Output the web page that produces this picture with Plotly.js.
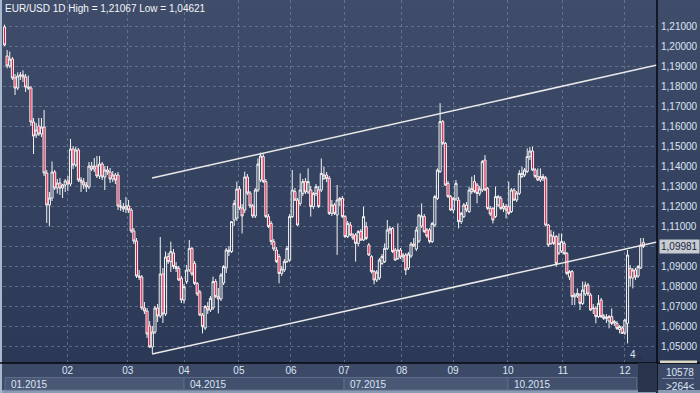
<!DOCTYPE html>
<html><head><meta charset="utf-8">
<script src="https://cdn.plot.ly/plotly-3.0.1.min.js"></script>
<style>
html,body{margin:0;padding:0;background:#34425f;}
#chart{width:700px;height:393px;
background:
 linear-gradient(to right,#a9b8cd 0px,#a9b8cd 2px,rgba(0,0,0,0) 2px),
 linear-gradient(to bottom,#404d6a 0px,#2c3956 363px,#3c4a67 363px,#3c4a67 390px,#8a99b2 390px,#8a99b2 393px);}
</style></head><body><div id="chart"></div>
<script>
// ---- data ----
const symbolText = "EUR/USD 1D";
const opens = [1.2095,1.1950,1.1900,1.1935,1.1840,1.1790,1.1850,1.1855,1.1845,1.1795,
1.1790,1.1620,1.1555,1.1600,1.1560,1.1595,1.1365,1.1205,1.1240,1.1370,
1.1290,1.1315,1.1290,1.1305,1.1325,1.1310,1.1485,1.1405,1.1480,1.1330,
1.1320,1.1305,1.1295,1.1400,1.1385,1.1400,1.1350,1.1410,1.1345,1.1380,
1.1370,1.1335,1.1355,1.1355,1.1200,1.1195,1.1185,1.1200,1.1180,1.1075,
1.1025,1.0850,1.0845,1.0690,1.0675,1.0600,1.0495,1.0570,1.0690,1.0650,
1.0860,1.0660,1.0947,1.0922,1.0965,1.0897,1.0888,1.0838,1.0730,1.0822,
1.0880,1.0988,1.0913,1.0813,1.0770,1.0655,1.0590,1.0697,1.0680,1.0690,
1.0822,1.0747,1.0735,1.0815,1.0890,1.0980,1.0972,1.1130,1.1140,1.1285,
1.1190,1.1180,1.1345,1.1265,1.1200,1.1150,1.1280,1.1330,1.1447,1.1322,
1.1147,1.1113,1.1022,1.0980,1.0947,1.0863,1.0880,1.0922,1.0930,1.1147,
1.1272,1.1230,1.1213,1.1263,1.1322,1.1270,1.1280,1.1197,1.1263,1.1280,
1.1280,1.1338,1.1355,1.1338,1.1163,1.1205,1.1155,1.1230,1.1238,1.1147,
1.1047,1.1105,1.1055,1.1055,1.1013,1.1072,1.1030,1.1097,1.1005,1.0947,
1.0872,1.0830,1.0840,1.0913,1.0922,1.0988,1.1080,1.1088,1.0980,1.0938,
1.0980,1.0945,1.0955,1.0890,1.0950,1.1010,1.0985,1.1025,1.1100,1.1147,
1.1080,1.1080,1.1022,1.1105,1.1238,1.1372,1.1622,1.1513,1.1313,1.1247,
1.1180,1.1235,1.1230,1.1122,1.1147,1.1205,1.1172,1.1272,1.1322,1.1305,
1.1263,1.1280,1.1430,1.1288,1.1188,1.1188,1.1147,1.1205,1.1238,1.1188,
1.1197,1.1197,1.1172,1.1280,1.1230,1.1263,1.1347,1.1355,1.1372,1.1447,
1.1475,1.1380,1.1347,1.1330,1.1347,1.1340,1.1105,1.1013,1.1047,1.1047,
1.0965,1.0975,1.1013,1.0963,1.0845,1.0872,1.0745,1.0750,1.0755,1.0713,
1.0760,1.0805,1.0755,1.0690,1.0688,1.0647,1.0730,1.0650,1.0638,1.0625,
1.0647,1.0615,1.0613,1.0582,1.0590,1.0565,1.0613,1.0888,1.0840,1.0880,
1.0850,1.0890,1.1017];
const highs = [1.21067,1.1980,1.1972,1.1945,1.1860,1.1868,1.1870,1.1878,1.1860,1.1852,
1.1800,1.1640,1.1615,1.1640,1.1640,1.1680,1.1380,1.1270,1.1423,1.1380,
1.1335,1.1340,1.1310,1.1335,1.1350,1.1535,1.1500,1.1495,1.1490,1.1345,
1.1340,1.1320,1.1420,1.1420,1.1440,1.1450,1.1450,1.1420,1.1400,1.1400,
1.1390,1.1375,1.1365,1.1370,1.1230,1.1215,1.1245,1.1230,1.1190,1.1090,
1.1040,1.0880,1.0855,1.0720,1.0690,1.0625,1.0600,1.0700,1.0710,1.1045,
1.0890,1.0972,1.0965,1.1022,1.0985,1.0920,1.0900,1.0850,1.0810,1.0905,
1.1030,1.0995,1.0925,1.0820,1.0780,1.0665,1.0705,1.0720,1.0750,1.0847,
1.0835,1.0790,1.0865,1.0905,1.0990,1.1000,1.1125,1.1230,1.1322,1.1300,
1.1210,1.1372,1.1360,1.1275,1.1210,1.1290,1.1438,1.1467,1.1460,1.1335,
1.1160,1.1125,1.1035,1.0995,1.0960,1.0900,1.0935,1.1000,1.1160,1.1380,
1.1290,1.1240,1.1363,1.1335,1.1340,1.1388,1.1300,1.1270,1.1310,1.1300,
1.1438,1.1397,1.1370,1.1350,1.1230,1.1215,1.1305,1.1245,1.1250,1.1155,
1.1125,1.1120,1.1065,1.1065,1.1080,1.1085,1.1197,1.1120,1.1015,1.0955,
1.0880,1.0880,1.0940,1.0960,1.1013,1.1130,1.1100,1.1095,1.0990,1.1113,
1.0990,1.0965,1.0965,1.0970,1.1020,1.1040,1.1097,1.1160,1.1213,1.1160,
1.1090,1.1090,1.1120,1.1255,1.1388,1.1714,1.1630,1.1520,1.1325,1.1255,
1.1245,1.1330,1.1245,1.1170,1.1215,1.1220,1.1297,1.1347,1.1355,1.1315,
1.1300,1.1430,1.1455,1.1295,1.1200,1.1195,1.1297,1.1255,1.1250,1.1215,
1.1210,1.1322,1.1290,1.1290,1.1275,1.1380,1.1397,1.1390,1.1488,1.1495,
1.1497,1.1390,1.1388,1.1388,1.1360,1.1350,1.1110,1.1080,1.1072,1.1055,
1.1063,1.1063,1.1025,1.0970,1.0880,1.0880,1.0765,1.0788,1.0765,1.0822,
1.0822,1.0815,1.0765,1.0710,1.0700,1.0755,1.0740,1.0660,1.0660,1.0655,
1.0688,1.0630,1.0625,1.0605,1.0600,1.0635,1.0980,1.0905,1.0890,1.0890,
1.0905,1.1040,1.1040];
const lows = [1.2000,1.1888,1.1890,1.1830,1.1755,1.1780,1.1830,1.1820,1.1770,1.1780,
1.1600,1.1460,1.1540,1.1550,1.1545,1.1350,1.1115,1.1098,1.1225,1.1280,
1.1262,1.1255,1.1240,1.1270,1.1275,1.1300,1.1385,1.1395,1.1320,1.1270,
1.1285,1.1270,1.1285,1.1375,1.1370,1.1340,1.1335,1.1330,1.1280,1.1355,
1.1315,1.1320,1.1310,1.1180,1.1175,1.1170,1.1165,1.1165,1.1065,1.1010,
1.0840,1.0830,1.0680,1.0660,1.0540,1.0490,1.04621,1.0560,1.0620,1.0640,
1.0615,1.0650,1.0910,1.0870,1.0885,1.0870,1.0825,1.0715,1.0712,1.0810,
1.0870,1.0850,1.0805,1.0750,1.0650,1.0563,1.0580,1.0660,1.0670,1.0680,
1.0740,1.0663,1.0725,1.0805,1.0865,1.0950,1.0965,1.1100,1.1125,1.1180,
1.1063,1.1165,1.1255,1.1190,1.1140,1.1140,1.1270,1.1320,1.1315,1.1140,
1.1090,1.1005,1.0975,1.0915,1.0813,1.0850,1.0870,1.0915,1.0920,1.1140,
1.1225,1.1100,1.1200,1.1250,1.1260,1.1260,1.1147,1.1185,1.1250,1.1190,
1.1270,1.1330,1.1320,1.1155,1.1150,1.1155,1.0955,1.1200,1.1140,1.1040,
1.1040,1.1050,1.1030,1.0922,1.1000,1.1025,1.1025,1.1030,1.0950,1.0863,
1.0808,1.0820,1.0830,1.0905,1.0915,1.0980,1.1060,1.0965,1.0925,1.0930,
1.0935,1.0920,1.0855,1.0880,1.0940,1.0995,1.0975,1.1015,1.1090,1.1065,
1.1040,1.1013,1.1015,1.1095,1.1230,1.1365,1.1505,1.1300,1.1240,1.1175,
1.1163,1.1225,1.1088,1.1110,1.1140,1.1170,1.1165,1.1260,1.1265,1.1213,
1.1250,1.1270,1.1275,1.1180,1.1150,1.1113,1.1140,1.1195,1.1180,1.1170,
1.1138,1.1155,1.1165,1.1225,1.1220,1.1255,1.1340,1.1345,1.1365,1.1430,
1.1375,1.1340,1.1325,1.1320,1.1325,1.1100,1.0995,1.1005,1.1005,1.0897,
1.0955,1.0965,1.0955,1.0855,1.0830,1.0705,1.0705,1.0740,1.0680,1.0705,
1.0750,1.0750,1.0675,1.0660,1.0613,1.0640,1.0640,1.0630,1.0615,1.0588,
1.0605,1.0600,1.0580,1.0563,1.0560,1.0555,1.0513,1.0797,1.0788,1.0830,
1.0840,1.0885,1.0990];
const closes = [1.2005,1.1900,1.1935,1.1840,1.1790,1.1850,1.1855,1.1845,1.1795,1.1790,
1.1620,1.1550,1.1580,1.1560,1.1595,1.1365,1.1205,1.1240,1.1370,1.1290,
1.1315,1.1290,1.1305,1.1325,1.1310,1.1485,1.1405,1.1480,1.1330,1.1320,
1.1305,1.1295,1.1400,1.1385,1.1400,1.1350,1.1410,1.1345,1.1380,1.1370,
1.1335,1.1355,1.1330,1.1200,1.1195,1.1185,1.1200,1.1180,1.1075,1.1025,
1.0850,1.0845,1.0690,1.0675,1.0560,1.0495,1.0570,1.0690,1.0650,1.0860,
1.0660,1.0945,1.0922,1.0972,1.0897,1.0888,1.0830,1.0730,1.0797,1.0880,
1.0988,1.0860,1.0813,1.0760,1.0655,1.0597,1.0697,1.0680,1.0738,1.0822,
1.0747,1.0735,1.0855,1.0897,1.0980,1.0972,1.1122,1.1213,1.1285,1.1190,
1.1150,1.1345,1.1265,1.1200,1.1150,1.1280,1.1410,1.1450,1.1322,1.1147,
1.1097,1.1022,1.0985,1.0922,1.0863,1.0885,1.0922,1.0988,1.1147,1.1280,
1.1230,1.1105,1.1280,1.1322,1.1270,1.1322,1.1197,1.1263,1.1297,1.1197,
1.1363,1.1355,1.1338,1.1163,1.1205,1.1163,1.1230,1.1238,1.1147,1.1047,
1.1113,1.1055,1.1040,1.1013,1.1072,1.1030,1.1147,1.1038,1.0955,1.0872,
1.0830,1.0870,1.0930,1.0947,1.0988,1.1080,1.1088,1.0972,1.0930,1.0980,
1.0945,1.0955,1.0880,1.0960,1.1010,1.1000,1.1080,1.1155,1.1150,1.1072,
1.1050,1.1022,1.1113,1.1247,1.1380,1.1622,1.1513,1.1305,1.1247,1.1180,
1.1238,1.1313,1.1122,1.1163,1.1205,1.1180,1.1280,1.1288,1.1272,1.1263,
1.1285,1.1422,1.1280,1.1188,1.1160,1.1130,1.1247,1.1247,1.1188,1.1200,
1.1180,1.1163,1.1280,1.1230,1.1265,1.1363,1.1363,1.1380,1.1447,1.1475,
1.1380,1.1347,1.1330,1.1347,1.1340,1.1105,1.1005,1.1055,1.1013,1.0913,
1.1013,1.1022,1.0963,1.0863,1.0872,1.0747,1.0755,1.0763,1.0713,1.0780,
1.0805,1.0760,1.0680,1.0688,1.0647,1.0713,1.0647,1.0638,1.0645,1.0647,
1.0613,1.0622,1.0588,1.0597,1.0563,1.0630,1.0955,1.0840,1.0880,1.0845,
1.0897,1.1005,1.09981];

// month boundaries (bar index where each month starts) and their labels
const monthTicks  = [23.9, 46.7, 68.0, 88.8, 108.5, 128.6, 150.5, 169.9, 190.7, 211.5, 235.0];
const monthLabels = ["02","03","04","05","06","07","08","09","10","11","12"];
// quarter strip: start bar index and label
const quarterStarts = [0.2, 68.0, 128.6, 190.7];
const quarterEnd = 239.5;
const quarterLabels = ["01.2015","04.2015","07.2015","10.2015"];
// price axis ticks
const yTicks = [1.05,1.06,1.07,1.08,1.09,1.10,1.11,1.12,1.13,1.14,1.15,1.16,1.17,1.18,1.19,1.20,1.21];
// hand-drawn channel lines (bar index, price)
const channelX     = [55.9, 247.2];
const channelUpper = [1.1340, 1.1905];
const channelLower = [1.0460, 1.1020];
// footer info
const barsTotalText = "10578";
const barsShownText = ">264<";
const dayMarkerIdx = 238;
const dayMarkerText = "4";

// ---- chart ----
const idx = opens.map((_, i) => i);
const fmt = v => v.toFixed(5).replace('.', ',');
const hi = Math.max(...highs), lo = Math.min(...lows);
const lastPrice = closes[closes.length - 1];
// the tick label hidden behind the current-price tag is left blank
const yTickText = yTicks.map(v => Math.abs(v - lastPrice) < 0.004 ? '' : fmt(v));

const W = 700, H = 393, L = 3, R = 43, B = 30, T = 0;
const pw = W - L - R, ph = H - T - B;
const px = p => (p - L) / pw;          // page pixel -> paper x
const py = p => (H - B - p) / ph;      // page pixel -> paper y

const gridColor = 'rgba(128,146,178,0.55)';
const txt = '#dbe5f3';
const FONT = '"Liberation Sans", Arial, sans-serif';
const tagColor = '#c7cbd2';

const traces = [
  {type:'candlestick', x:idx, open:opens, high:highs, low:lows, close:closes,
   increasing:{line:{color:'#f3f3f3', width:1}, fillcolor:'rgba(0,0,0,0)'},
   decreasing:{line:{color:'#f3f3f3', width:1}, fillcolor:'#e3173e'},
   whiskerwidth:0, hoverinfo:'skip', showlegend:false},
  {type:'scatter', mode:'lines', x:channelX, y:channelUpper, line:{color:'#e9e9e9', width:1.5}, hoverinfo:'skip', showlegend:false},
  {type:'scatter', mode:'lines', x:channelX, y:channelLower, line:{color:'#e9e9e9', width:1.5}, hoverinfo:'skip', showlegend:false}
];

const shapes = [];
const annotations = [];
// quarter boxes
const qEdges = quarterStarts.concat([quarterEnd]);
quarterLabels.forEach((q, i) => {
  shapes.push({type:'rect', xref:'x', yref:'paper', x0:qEdges[i], x1:qEdges[i+1], y0:py(377.5), y1:py(390),
    fillcolor: i % 2 === 0 ? '#4a5876' : '#42506d', line:{color:'#5d6c89', width:1}, layer:'above'});
  annotations.push({xref:'x', yref:'paper', x:qEdges[i], y:py(384), xanchor:'left', yanchor:'middle', xshift:4,
    text:q, showarrow:false, font:{family:FONT, size:10, color:txt}});
});
// frame lines
shapes.push({type:'line', xref:'paper', yref:'paper', x0:px(0), x1:px(700), y0:0, y1:0, line:{color:'#05080f', width:1.5}});
shapes.push({type:'line', xref:'paper', yref:'paper', x0:1, x1:1, y0:py(393), y1:1, line:{color:'#05080f', width:1.5}});
// right-bottom dark box
shapes.push({type:'rect', xref:'paper', yref:'paper', x0:px(638), x1:1, y0:py(392), y1:0, fillcolor:'#28334c', line:{width:0}});
// scroll handle
shapes.push({type:'rect', xref:'paper', yref:'paper', x0:px(660), x1:px(697), y0:py(363), y1:py(360.5), fillcolor:'#d9d6c2', line:{width:0}});
// separator in footer
shapes.push({type:'line', xref:'paper', yref:'paper', x0:px(662), x1:px(694), y0:py(378.5), y1:py(378.5), line:{color:'#7d8ca7', width:1}});

annotations.push({xref:'paper', yref:'paper', x:px(680), y:py(372.5), xanchor:'center', yanchor:'middle', text:barsTotalText, showarrow:false, font:{family:FONT, size:10, color:txt}});
annotations.push({xref:'paper', yref:'paper', x:px(680), y:py(386), xanchor:'center', yanchor:'middle', text:barsShownText, showarrow:false, font:{family:FONT, size:10, color:txt}});
annotations.push({xref:'x', yref:'paper', x:dayMarkerIdx, y:0, xanchor:'center', yanchor:'bottom', yshift:1, text:dayMarkerText, showarrow:false, font:{family:FONT, size:10, color:txt}});
annotations.push({xref:'x', yref:'paper', x:dayMarkerIdx + 2.6, y:0, xanchor:'center', yanchor:'bottom', yshift:0, text:'▲', showarrow:false, font:{family:'DejaVu Sans', size:8, color:'#28334c'}});
// current price tag: label box with a pointer to the plot edge
annotations.push({xref:'paper', yref:'y', x:1, y:lastPrice, ax:22, ay:0, axref:'pixel', ayref:'pixel',
  showarrow:true, arrowhead:2, arrowsize:1.6, arrowwidth:1.5, arrowcolor:tagColor, standoff:0, startstandoff:0,
  text:fmt(lastPrice), bgcolor:tagColor, borderpad:1, font:{family:FONT, size:10, color:'#1b2640'}});

const layout = {
  width:W, height:H, margin:{l:L, r:R, t:T, b:B, pad:0},
  paper_bgcolor:'rgba(0,0,0,0)', plot_bgcolor:'rgba(0,0,0,0)',
  separators:', ', showlegend:false, boxgap:0.2, boxgroupgap:0,
  font:{family:FONT, size:10, color:txt},
  title:{text:symbolText + ' High = ' + fmt(hi) + ' Low = ' + fmt(lo), xref:'container', yref:'container',
         x:5/W, xanchor:'left', y:1 - 8.5/H, yanchor:'middle', font:{family:FONT, size:10, color:'#f4f6fa'}},
  xaxis:{range:[-0.57, 247.16], tickvals:monthTicks, ticktext:monthLabels, showgrid:true, gridcolor:gridColor,
         griddash:'3px,3px', gridwidth:1, zeroline:false, showline:false, ticks:'', rangeslider:{visible:false},
         tickfont:{family:FONT, size:10, color:txt}, fixedrange:true},
  yaxis:{side:'right', range:[1.0415, 1.223], tickvals:yTicks, ticktext:yTickText, showgrid:true, gridcolor:gridColor,
         griddash:'3px,3px', gridwidth:1, zeroline:false, showline:false, ticks:'', ticklabelstandoff:3,
         tickfont:{family:FONT, size:10, color:txt}, fixedrange:true},
  shapes:shapes, annotations:annotations
};
Plotly.newPlot('chart', traces, layout, {staticPlot:true, displayModeBar:false});
</script></body></html>
